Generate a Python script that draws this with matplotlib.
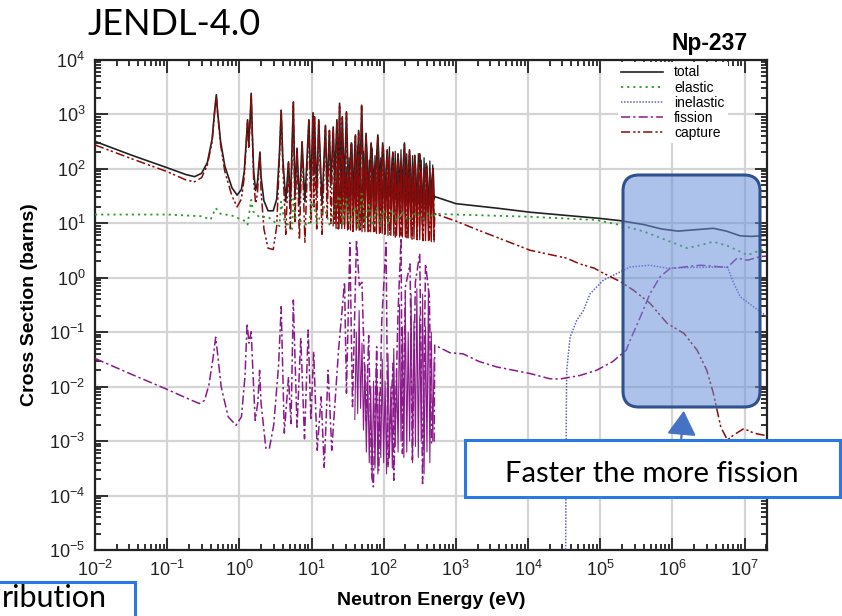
import matplotlib
matplotlib.use("Agg")
import matplotlib.pyplot as plt
from matplotlib.lines import Line2D
from matplotlib.patches import FancyBboxPatch, Rectangle, FancyArrowPatch
from matplotlib.transforms import IdentityTransform
from matplotlib.ticker import LogLocator, NullFormatter

# Np-237 evaluated neutron cross sections (JENDL-4.0); energies in eV, cross sections in barns
resolved_E = [0.01, 0.0316, 0.1, 0.18, 0.24, 0.30, 0.36, 0.42, 0.457, 0.48, 0.50, 0.55, 0.63, 0.79,
              0.93, 1.07, 1.17, 1.26, 1.30, 1.35, 1.41, 1.46, 1.51, 1.58, 1.68, 1.78, 1.86, 1.93,
              2.0, 2.19, 2.5, 2.95, 3.3, 3.6, 3.8, 4.0, 4.4, 4.8, 5.1, 5.6, 5.9, 6.3, 6.8, 7.4,
              8.1, 9.2, 9.8, 10.5, 10.8, 11.0, 11.8, 12.6, 14.0, 15.6, 16.5, 17.7, 18.6, 20, 21,
              22.5, 23.5, 24.5, 25.5, 26.7, 28.5, 30.5, 32.5, 35.6, 37.5, 40.6, 42.5, 45, 47, 49.5,
              53, 57, 62, 67, 75, 83, 90, 97, 104, 112, 122, 134, 145, 158, 175, 194, 210, 228,
              248, 270, 290, 316, 350, 390, 430, 485, 500]
total_resolved = [320, 180, 105, 79, 72, 83, 130, 355, 1260, 2300, 1120, 316, 112, 45, 33, 42, 89,
                  400, 800, 280, 800, 2450, 500, 89, 40, 56, 112, 204, 71, 26, 17, 17, 28, 200, 1200,
                  160, 25, 135, 22, 1700, 32, 240, 22, 316, 25, 800, 40, 1070, 80, 910, 32, 800, 22,
                  630, 40, 510, 50, 590, 63, 800, 50, 1600, 40, 910, 50, 1120, 40, 300, 35, 420, 40,
                  510, 45, 1480, 40, 450, 35, 300, 40, 420, 35, 300, 32, 224, 32, 204, 28, 190, 28,
                  300, 25, 224, 25, 178, 25, 190, 25, 126, 22, 102, 28]
capture_resolved = [275, 155, 89, 63, 58, 69, 117, 316, 1200, 2140, 1050, 280, 89, 32, 20, 28, 71,
                    355, 760, 250, 710, 2340, 450, 63, 23, 35, 89, 190, 40, 7.9, 3.5, 3.3, 9, 160,
                    1170, 126, 6.3, 126, 7.9, 1660, 10, 230, 5, 300, 4.5, 760, 10, 1050, 20, 890, 7.9,
                    760, 6.3, 600, 12.6, 500, 10, 560, 10, 760, 7.9, 1510, 10, 870, 8.9, 1070, 7.9,
                    280, 7.1, 400, 7.9, 500, 7.1, 1410, 7.9, 430, 7.1, 280, 7.1, 400, 6.3, 280, 6.3,
                    214, 6.3, 195, 5.6, 182, 5.6, 280, 5.2, 214, 5.0, 170, 5.0, 182, 4.8, 120, 4.8,
                    98, 5.0]

# the many smaller resonances between 20 eV and 500 eV (alternating valley / peak)
forest_E = [19.95, 20.9, 21.9, 22.9, 24.0, 25.1, 26.3, 27.5, 28.8, 30.2, 31.6, 33.1, 34.7, 36.3,
            38.0, 39.8, 41.7, 43.7, 45.7, 47.9, 50.1, 52.5, 55.0, 57.5, 60.3, 63.1, 66.1, 69.2,
            72.4, 75.9, 79.4, 83.2, 87.1, 91.2, 95.5, 100, 104.7, 109.6, 114.8, 120.2, 125.9,
            131.8, 138.0, 144.5, 151.4, 158.5, 166.0, 173.8, 182.0, 190.5, 199.5, 208.9, 218.8,
            229.1, 239.9, 251.2, 263.0, 275.4, 288.4, 302.0, 316.2, 331.1, 346.7, 363.1, 380.2,
            398.1, 416.9, 436.5, 457.1, 478.6, 500]
total_forest = [22, 95, 21, 190, 21, 70, 21, 240, 20, 110, 20, 160, 20, 290, 20, 145, 19, 260, 19,
                110, 19, 210, 19, 320, 18, 145, 18, 240, 18, 175, 18, 290, 17, 160, 17, 225, 17,
                145, 17, 255, 16, 160, 16, 210, 16, 130, 16, 225, 16, 160, 15, 190, 15, 145, 15,
                175, 15, 130, 15, 190, 14, 145, 14, 160, 14, 112, 14, 140, 13, 118, 13]
capture_forest = [9, 60, 8, 120, 8, 45, 8, 150, 8, 70, 7.5, 100, 7.5, 180, 7.5, 90, 7.5, 160, 7.5,
                  70, 7, 130, 7, 200, 7, 90, 7, 150, 7, 110, 6.5, 180, 6.5, 100, 6.5, 140, 6.5, 90,
                  6, 160, 6, 100, 6, 130, 6, 80, 5.6, 140, 5.6, 100, 5.6, 120, 5.4, 90, 5.4, 110,
                  5.2, 80, 5.2, 120, 5, 90, 5, 100, 4.8, 70, 4.8, 90, 4.6, 75, 4.6]

total_fast_E = [510, 1.0e3, 3.7e3, 1.07e4, 1.0e5, 1.9e5, 4.0e5, 7.0e5, 1.2e6, 2.0e6, 3.7e6, 5.6e6,
                8.7e6, 1.26e7, 2.0e7]
total_fast = [31, 23, 19, 16, 12.3, 11.2, 9.5, 7.9, 7.2, 7.6, 8.1, 7.2, 5.9, 5.75, 6.0]

capture_fast_E = [510, 1.0e3, 2.1e3, 1.07e4, 3.4e4, 5.2e4, 8.3e4, 1.0e5, 1.9e5, 2.9e5, 4.9e5, 8.5e5,
                  1.45e6, 2.2e6, 3.0e6, 3.7e6, 4.7e6, 5.8e6, 7.1e6, 9.8e6, 1.35e7, 2.0e7]
capture_fast = [15, 11, 7.4, 3.2, 2.3, 1.8, 1.5, 1.3, 0.85, 0.59, 0.34, 0.145, 0.095, 0.047, 0.02,
                0.0076, 0.0018, 0.00105, 0.0013, 0.0017, 0.0014, 0.00126]

elastic_E = [0.01, 0.1, 0.3, 0.4, 0.47, 0.55, 0.8, 1.2, 1.3, 1.46, 1.55, 1.9, 2.5, 3.6, 3.8, 4.2,
             5.4, 5.6, 6.0, 9.0, 10.5, 12, 15, 18, 22, 24.5, 27, 30.5, 34, 40, 45, 49.5, 55, 62,
             70, 80, 90, 100, 115, 130, 150, 180, 220, 280, 350, 420, 500, 510, 1.0e3, 1.07e4,
             8.9e4, 1.9e5, 4.0e5, 8.0e5, 1.6e6, 2.5e6, 3.7e6, 6.0e6, 1.1e7, 1.66e7, 2.0e7]
elastic_xs = [14.5, 14.5, 13.5, 11.7, 19, 15, 13.8, 11, 9.5, 27, 16.6, 13, 13.2, 8.9, 25, 11.2, 7.9,
              28, 12.6, 8.9, 25, 10, 20, 8.9, 22, 32, 8.9, 28, 10, 20, 7.9, 35, 10, 22, 8.9, 20,
              8.9, 17.8, 10, 17.8, 11.2, 15.8, 11.2, 15.8, 12, 15.8, 12.6, 15, 14.5, 13.2, 11.5,
              9.3, 7.1, 5.0, 3.5, 4.0, 4.6, 3.8, 2.6, 3.2, 3.2]

inelastic_E = [3.31e4, 3.35e4, 3.39e4, 3.44e4, 3.83e4, 4.74e4, 5.86e4, 7.26e4, 1.11e5, 1.71e5,
               2.6e5, 4.9e5, 8.5e5, 2.0e6, 5.8e6, 7.1e6, 8.7e6, 1.3e7, 2.0e7]
inelastic_xs = [1e-6, 1e-4, 3.2e-3, 0.02, 0.081, 0.166, 0.25, 0.51, 0.91, 1.2, 1.58, 1.7, 1.5,
                1.55, 1.58, 0.79, 0.45, 0.3, 0.2]

fission_E = [0.01, 0.0316, 0.1, 0.2, 0.28, 0.33, 0.38, 0.43, 0.47, 0.5, 0.56, 0.7, 0.9, 1.07, 1.2,
             1.28, 1.36, 1.46, 1.55, 1.66, 1.8, 1.91, 2.0, 2.33, 2.6, 3.0, 3.5, 3.8, 4.2, 4.8, 5.2,
             5.6, 6.3, 7.1, 8.0, 9.0, 9.8, 10.7, 12.0, 13.6, 15.0, 17.0, 19.1, 23.7, 28.7, 30.5,
             34, 37, 42, 46, 50, 57, 62, 68, 72, 80, 85, 94, 108, 115, 135, 138, 158, 174, 182,
             200, 232, 250, 275, 316, 346, 380, 430, 460, 500, 510, 826, 1.26e3, 2.1e3, 3.7e3,
             7.0e3, 1.07e4, 2.0e4, 2.75e4, 5.2e4, 8.9e4, 1.5e5, 2.3e5, 2.6e5, 3.6e5, 4.9e5,
             6.8e5, 9.3e5, 2.45e6, 5.8e6, 7.9e6, 1.1e7, 1.66e7, 2.0e7]
fission_xs = [0.033, 0.017, 0.0089, 0.0059, 0.0049, 0.0056, 0.011, 0.032, 0.081, 0.04, 0.01,
              0.0028, 0.00195, 0.0028, 0.016, 0.145, 0.063, 0.102, 0.016, 0.0024, 0.005, 0.02,
              0.005, 0.00074, 0.00072, 0.002, 0.025, 0.295, 0.0014, 0.015, 0.0021, 0.39, 0.0018,
              0.078, 0.0011, 0.11, 0.0024, 0.044, 0.00068, 0.0065, 0.00033, 0.02, 0.00068, 0.047,
              0.83, 0.0076, 4.4, 0.0043, 5.0, 0.72, 0.83, 0.0024, 0.087, 0.00025, 0.000145,
              0.054, 0.00029, 0.155, 4.4, 0.00033, 0.027, 0.00019, 0.22, 5.4, 0.00059, 0.68, 1.8,
              0.00045, 0.83, 2.8, 0.000166, 1.8, 0.45, 0.0009, 0.001, 0.058, 0.042, 0.04, 0.029,
              0.023, 0.0195, 0.0174, 0.014, 0.0138, 0.016, 0.02, 0.029, 0.047, 0.071, 0.19, 0.51,
              1.05, 1.48, 1.7, 1.55, 2.3, 2.1, 2.45, 2.5]

# the many smaller fission resonances between 40 eV and 500 eV (alternating valley / peak)
fission_forest_E = [39.8, 41.7, 43.7, 45.7, 47.9, 50.1, 52.5, 55.0, 57.5, 60.3, 63.1, 66.1, 69.2,
                    72.4, 75.9, 79.4, 83.2, 87.1, 91.2, 95.5, 100, 104.7, 109.6, 114.8, 120.2,
                    125.9, 131.8, 138.0, 144.5, 151.4, 158.5, 166.0, 173.8, 182.0, 190.5, 199.5,
                    208.9, 218.8, 229.1, 239.9, 251.2, 263.0, 275.4, 288.4, 302.0, 316.2, 331.1,
                    346.7, 363.1, 380.2, 398.1, 416.9, 436.5, 457.1, 478.6, 500]
fission_forest = [0.0025, 0.1, 0.0032, 0.25, 0.004, 0.063, 0.0016, 0.025, 0.00063, 0.016, 0.0004,
                  0.01, 0.0002, 0.0126, 0.00032, 0.025, 0.00025, 0.0079, 0.0005, 0.032, 0.0004,
                  0.0126, 0.00025, 0.04, 0.0005, 0.01, 0.00032, 0.05, 0.0008, 0.02, 0.00063, 0.32,
                  0.001, 0.126, 0.0005, 0.4, 0.00063, 0.1, 0.001, 0.5, 0.0004, 0.16, 0.0008, 0.63,
                  0.0005, 0.2, 0.001, 0.5, 0.00025, 0.126, 0.00063, 0.63, 0.0004, 0.1, 0.001,
                  0.032]

x_ticks = [1e-2, 1e-1, 1e0, 1e1, 1e2, 1e3, 1e4, 1e5, 1e6, 1e7]
y_ticks = [1e-5, 1e-4, 1e-3, 1e-2, 1e-1, 1e0, 1e1, 1e2, 1e3, 1e4]

W, H = 842, 616
plt.rcParams['font.family'] = ['Liberation Sans', 'DejaVu Sans']
plt.rcParams['mathtext.default'] = 'regular'

C_TOTAL = '#222222'
C_ELASTIC = '#2f9a2f'
C_INEL = '#6060c8'
C_FISSION = '#8a1a8a'
C_CAPTURE = '#8b0a0a'

ls_total = '-'
ls_elastic = (0, (1.2, 2.2))
ls_inel = (0, (1, 1))
ls_fission = (0, (6, 2, 1.5, 2))
ls_capture = (0, (6, 2, 1.5, 1.5, 1.5, 2))

fig = plt.figure(figsize=(W / 100, H / 100), dpi=100)
ax = fig.add_axes([95 / W, 1 - 550 / H, (767 - 95) / W, (550 - 60) / H])
ax.set_xscale('log')
ax.set_yscale('log')
ax.set_xlim(1e-2, 2.05e7)
ax.set_ylim(1e-5, 1e4)

ax.set_xticks(x_ticks)
ax.set_yticks(y_ticks)
for axis in (ax.xaxis, ax.yaxis):
    axis.set_minor_locator(LogLocator(base=10, subs=range(2, 10), numticks=30))
    axis.set_minor_formatter(NullFormatter())
ax.tick_params(which='both', direction='in', top=True, right=True, colors='#222222',
               labelsize=13, width=1.3)
ax.tick_params(which='major', length=9, pad=7)
ax.tick_params(which='minor', length=4.5)
ax.grid(True, which='major', color='#d4d4d4', lw=1.6)
ax.set_axisbelow(True)
for s in ax.spines.values():
    s.set_linewidth(1.6)
    s.set_color('#222222')

# total
ax.plot(forest_E, total_forest, color=C_TOTAL, ls='-', lw=0.9, zorder=3)
ax.plot(resolved_E + total_fast_E, total_resolved + total_fast, color=C_TOTAL, ls=ls_total,
        lw=1.2, zorder=3)
# inelastic
ax.plot(inelastic_E, inelastic_xs, color=C_INEL, ls=ls_inel, lw=1.1, zorder=3)
# fission
ax.plot(fission_forest_E, fission_forest, color=C_FISSION, ls='-', lw=0.8, zorder=3)
ax.plot(fission_E, fission_xs, color=C_FISSION, ls=ls_fission, lw=1.1, zorder=3)
# capture
ax.plot(forest_E, capture_forest, color=C_CAPTURE, ls='-', lw=0.9, zorder=4)
ax.plot(resolved_E + capture_fast_E, capture_resolved + capture_fast, color=C_CAPTURE,
        ls=ls_capture, lw=1.1, zorder=4)
# elastic
ax.plot(elastic_E, elastic_xs, color=C_ELASTIC, ls=ls_elastic, lw=1.3, zorder=5)

handles = [Line2D([], [], color=C_TOTAL, ls=ls_total, lw=1.2),
           Line2D([], [], color=C_ELASTIC, ls=ls_elastic, lw=1.3),
           Line2D([], [], color=C_INEL, ls=ls_inel, lw=1.1),
           Line2D([], [], color=C_FISSION, ls=ls_fission, lw=1.1),
           Line2D([], [], color=C_CAPTURE, ls=ls_capture, lw=1.1)]
leg = fig.legend(handles, ['total', 'elastic', 'inelastic', 'fission', 'capture'],
                 loc='upper left', bbox_to_anchor=(618 / W, 1 - 62 / H), fontsize=10,
                 frameon=True, fancybox=False, edgecolor='none', facecolor='white',
                 framealpha=1, borderpad=0.25, borderaxespad=0, handlelength=3.0,
                 handletextpad=0.8, labelspacing=0.08)
leg.set_zorder(6)

ax.set_xlabel('Neutron Energy (eV)', fontsize=14, fontweight='bold',
              family=['Liberation Sans Narrow', 'Liberation Sans'], labelpad=9)
ax.set_ylabel('Cross Section (barns)', fontsize=14, fontweight='bold',
              family=['Liberation Sans Narrow', 'Liberation Sans'], labelpad=8)

fig.text(748 / W, 1 - 50 / H, 'Np-237', ha='right', va='baseline', fontsize=16.5,
         fontweight='bold')
fig.text(88 / W, 1 - 35 / H, 'JENDL-4.0', ha='left', va='baseline', fontsize=26,
         family=['Lato', 'DejaVu Sans'])

# highlighted fast-neutron region
disp = IdentityTransform()
region = FancyBboxPatch((623, H - 407), 760 - 623, 407 - 175,
                        boxstyle='round,pad=0,rounding_size=16', transform=disp,
                        facecolor=(0.42, 0.57, 0.85, 0.55), edgecolor='#2f528f', lw=2.2,
                        zorder=10)
fig.patches.append(region)
arrow = FancyArrowPatch((681, H - 441), (684, H - 408), transform=disp,
                        arrowstyle='-|>,head_length=10,head_width=6', color='#4472c4',
                        lw=1.6, mutation_scale=1.5, zorder=11)
fig.patches.append(arrow)

note_box = Rectangle((465, H - 497), 840 - 465, 497 - 440, transform=disp,
                     facecolor='white', edgecolor='#2a78e4', lw=2.2, zorder=10)
fig.patches.append(note_box)
fig.text(652 / W, 1 - 482 / H, 'Faster the more fission', ha='center', va='baseline',
         fontsize=21, family=['Lato', 'DejaVu Sans'], zorder=12)

side_box = Rectangle((-10, H - 640), 145, 640 - 582, transform=disp,
                     facecolor='white', edgecolor='#2a78e4', lw=2.2, zorder=10)
fig.patches.append(side_box)
fig.text(2 / W, 1 - 607 / H, 'ribution', ha='left', va='baseline',
         fontsize=22, family=['Lato', 'DejaVu Sans'], zorder=12)

fig.savefig('out.png', dpi=100)
